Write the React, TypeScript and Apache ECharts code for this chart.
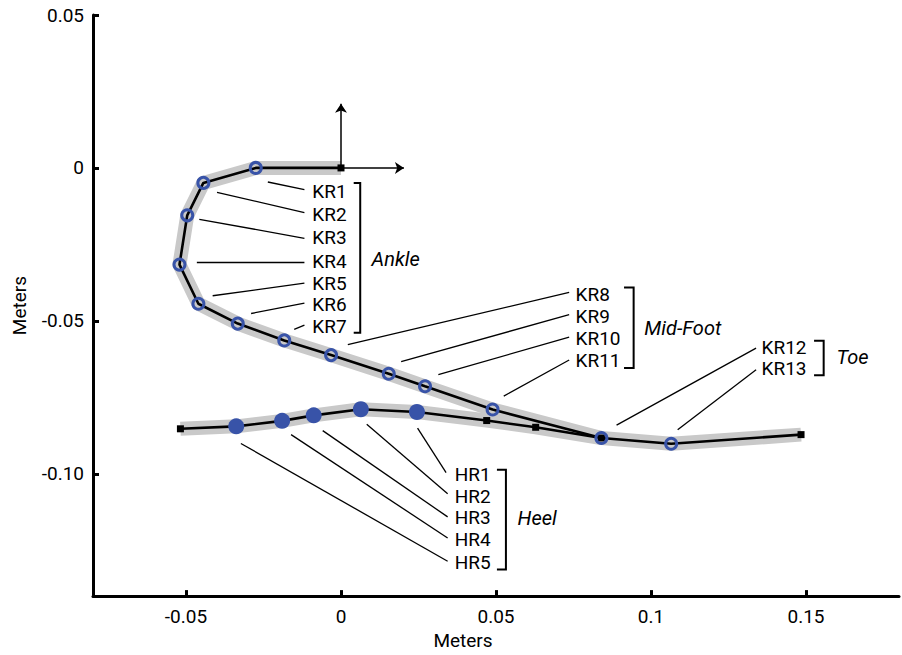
import React, { useEffect, useRef } from "react";
import * as echarts from "echarts";

// Axis ticks
const xTicks = [-0.05, 0, 0.05, 0.1, 0.15];
const xTickLabels = ["-0.05", "0", "0.05", "0.1", "0.15"];
const yTicks = [-0.1, -0.05, 0, 0.05];
const yTickLabels = ["-0.10", "-0.05", "0", "0.05"];

// Foot / knee reference trajectory (KR markers)
const krOrigin = [0, 0];
const krNames = ["KR1", "KR2", "KR3", "KR4", "KR5", "KR6", "KR7", "KR8", "KR9", "KR10", "KR11", "KR12", "KR13"];
const krX = [-0.0275, -0.0444, -0.0496, -0.0521, -0.046, -0.0333, -0.0183, -0.0032, 0.0154, 0.0271, 0.0489, 0.084, 0.1065];
const krY = [0.0, -0.0049, -0.0155, -0.0316, -0.0444, -0.0509, -0.0564, -0.0612, -0.0673, -0.0714, -0.079, -0.0883, -0.0902];
const krEnd = [0.1484, -0.0872];

// Heel trajectory (HR markers), left to right = HR5 ... HR1
const heelStart = [-0.0518, -0.0853];
const hrNames = ["HR5", "HR4", "HR3", "HR2", "HR1"];
const hrX = [-0.0338, -0.019, -0.0088, 0.0064, 0.0245];
const hrY = [-0.0845, -0.0827, -0.0809, -0.0789, -0.0798];
const heelMidX = [0.047, 0.0628];
const heelMidY = [-0.0826, -0.0848];
const heelEnd = [0.084, -0.0883];

// Annotation: leader lines [from, to] in data units
const krLeaders = [
  [[-0.0236, -0.0046], [-0.0118, -0.0071]],
  [[-0.04, -0.008], [-0.0118, -0.0146]],
  [[-0.0457, -0.0168], [-0.0118, -0.023]],
  [[-0.0465, -0.031], [-0.0118, -0.031]],
  [[-0.0414, -0.0418], [-0.0118, -0.0377]],
  [[-0.029, -0.0476], [-0.0118, -0.0442]],
  [[-0.0151, -0.0528], [-0.0118, -0.0514]],
  [[0.0022, -0.0578], [0.0736, -0.0407]],
  [[0.0194, -0.0633], [0.0736, -0.048]],
  [[0.0314, -0.0676], [0.0736, -0.0553]],
  [[0.0525, -0.0746], [0.0736, -0.0628]],
  [[0.0889, -0.0841], [0.1339, -0.0589]],
  [[0.1086, -0.0856], [0.1339, -0.066]],
];
const hrLeaders = [
  [[-0.0323, -0.0901], [0.0344, -0.1286]],
  [[-0.0161, -0.0872], [0.0344, -0.121]],
  [[-0.0059, -0.0859], [0.0344, -0.1141]],
  [[0.0083, -0.0838], [0.0344, -0.1065]],
  [[0.0247, -0.0851], [0.0339, -0.0996]],
];
const krLabelPos = [
  [-0.0094, -0.0076], [-0.0094, -0.0152], [-0.0094, -0.0226], [-0.0094, -0.0305],
  [-0.0094, -0.0377], [-0.0094, -0.0447], [-0.0094, -0.0517],
  [0.0755, -0.0413], [0.0755, -0.0485], [0.0755, -0.0558], [0.0755, -0.063],
  [0.1355, -0.0587], [0.1355, -0.0657],
];
const hrLabelPos = [
  [0.0365, -0.1289], [0.0365, -0.1216], [0.0365, -0.1144], [0.0365, -0.1074], [0.0365, -0.1004],
];
// Group brackets: [x, yTop, yBottom, tickLeftX]
const groupNames = ["Ankle", "Mid-Foot", "Toe", "Heel"];
const groupBrackets = [
  [0.0062, -0.0049, -0.0539, 0.0041],
  [0.0944, -0.0391, -0.0654, 0.0913],
  [0.1557, -0.0565, -0.0678, 0.1526],
  [0.0532, -0.0987, -0.1313, 0.0503],
];
const groupLabelPos = [
  [0.0097, -0.0297],
  [0.0977, -0.0523],
  [0.1597, -0.0619],
  [0.0568, -0.1144],
];
// Origin reference frame arrows
const frameArrows = [
  [[0, 0], [0, 0.021]],
  [[0, 0], [0.0203, 0]],
];

const BLUE = "#3853a8";
const BAND = "#c9c9c9";
const FONT = "Roboto, Liberation Sans, Arial, sans-serif";

export default function App() {
  const ref = useRef<HTMLDivElement>(null);
  useEffect(() => {
    if (!ref.current) return;
    const chart = echarts.init(ref.current, null, { renderer: "svg" });

    const krPts = krX.map((x, i) => [x, krY[i]]);
    const krLine = [krOrigin, ...krPts, krEnd];
    const hrPts = hrX.map((x, i) => [x, hrY[i]]);
    const heelMids = heelMidX.map((x, i) => [x, heelMidY[i]]);
    const heelLine = [heelStart, ...hrPts, ...heelMids, heelEnd];
    const squares = [krOrigin, krEnd, heelStart, ...heelMids, heelEnd];

    const bracketLines = groupBrackets.map(([x, t, b, l]) => ({
      coords: [[l, t], [x, t], [x, b], [l, b]],
    }));

    const labelStyle = {
      show: true,
      position: "right",
      distance: 0,
      formatter: "{b}",
      color: "#000",
      opacity: 1,
      fontSize: 19,
      fontFamily: FONT,
    };

    const option: any = {
      animation: false,
      backgroundColor: "#fff",
      grid: { left: 93, right: 3, top: 15, bottom: 54, containLabel: false },
      xAxis: {
        type: "value",
        min: -0.08,
        max: 0.18,
        splitLine: { show: false },
        axisLine: { show: true, onZero: false, lineStyle: { color: "#000", width: 3 } },
        axisTick: { show: true, inside: true, length: 6, customValues: xTicks, lineStyle: { color: "#000", width: 3 } },
        axisLabel: {
          customValues: xTicks,
          margin: 11,
          color: "#000",
          fontSize: 19,
          fontFamily: FONT,
          formatter: (v: number) => {
            const i = xTicks.findIndex((t) => Math.abs(t - v) < 1e-9);
            return i >= 0 ? xTickLabels[i] : "";
          },
        },
        name: "Meters",
        nameLocation: "middle",
        nameGap: 30,
        nameTextStyle: { color: "#000", fontSize: 19, fontFamily: FONT, padding: [0, 66, 0, 0] },
      },
      yAxis: {
        type: "value",
        min: -0.14,
        max: 0.05,
        splitLine: { show: false },
        axisLine: { show: true, onZero: false, lineStyle: { color: "#000", width: 3 } },
        axisTick: { show: true, inside: true, length: 6, customValues: yTicks, lineStyle: { color: "#000", width: 3 } },
        axisLabel: {
          customValues: yTicks,
          margin: 9,
          color: "#000",
          fontSize: 19,
          fontFamily: FONT,
          formatter: (v: number) => {
            const i = yTicks.findIndex((t) => Math.abs(t - v) < 1e-9);
            return i >= 0 ? yTickLabels[i] : "";
          },
        },
        name: "Meters",
        nameLocation: "middle",
        nameGap: 64,
        nameRotate: 90,
        nameTextStyle: { color: "#000", fontSize: 19, fontFamily: FONT },
      },
      series: [
        {
          type: "line",
          data: krLine,
          showSymbol: false,
          symbol: "none",
          lineStyle: { color: BAND, width: 14, cap: "butt", join: "round" },
          z: 1,
          silent: true,
        },
        {
          type: "line",
          data: heelLine,
          showSymbol: false,
          symbol: "none",
          lineStyle: { color: BAND, width: 14, cap: "butt", join: "round" },
          z: 1,
          silent: true,
        },
        {
          type: "line",
          data: krLine,
          showSymbol: false,
          symbol: "none",
          lineStyle: { color: "#000", width: 2.6 },
          z: 2,
        },
        {
          type: "line",
          data: heelLine,
          showSymbol: false,
          symbol: "none",
          lineStyle: { color: "#000", width: 2.6 },
          z: 2,
        },
        {
          type: "lines",
          coordinateSystem: "cartesian2d",
          data: [...krLeaders, ...hrLeaders].map((c) => ({ coords: c })),
          lineStyle: { color: "#000", width: 1.3, opacity: 1 },
          symbol: "none",
          z: 2,
        },
        {
          type: "lines",
          coordinateSystem: "cartesian2d",
          polyline: true,
          data: bracketLines,
          lineStyle: { color: "#000", width: 2, opacity: 1 },
          symbol: "none",
          z: 2,
        },
        {
          type: "lines",
          coordinateSystem: "cartesian2d",
          data: frameArrows.map((c) => ({ coords: c })),
          lineStyle: { color: "#000", width: 1.5, opacity: 1 },
          symbol: ["none", "arrow"],
          symbolSize: 9,
          z: 2,
        },
        {
          type: "scatter",
          data: squares,
          symbol: "rect",
          symbolSize: 7,
          itemStyle: { color: "#000", opacity: 1 },
          z: 3,
        },
        {
          type: "scatter",
          data: krPts,
          symbol: "circle",
          symbolSize: 11,
          itemStyle: { color: "rgba(0,0,0,0)", borderColor: BLUE, borderWidth: 3, opacity: 1 },
          z: 4,
        },
        {
          type: "scatter",
          data: hrPts,
          symbol: "circle",
          symbolSize: 16,
          itemStyle: { color: BLUE, opacity: 1 },
          z: 4,
        },
        {
          type: "scatter",
          data: [
            ...krNames.map((n, i) => ({ name: n, value: krLabelPos[i] })),
            ...hrNames.map((n, i) => ({ name: n, value: hrLabelPos[i] })),
          ],
          symbolSize: 1,
          itemStyle: { color: "rgba(0,0,0,0)", opacity: 1 },
          label: labelStyle,
          z: 5,
        },
        {
          type: "scatter",
          data: groupNames.map((n, i) => ({ name: n, value: groupLabelPos[i] })),
          symbolSize: 1,
          itemStyle: { color: "rgba(0,0,0,0)", opacity: 1 },
          label: { ...labelStyle, fontStyle: "italic", fontSize: 20 },
          z: 5,
        },
      ],
    };
    chart.setOption(option);
    return () => chart.dispose();
  }, []);
  return (
    <div
      ref={ref}
      style={{ position: "fixed", left: 0, top: 0, width: 902, height: 655, background: "#fff" }}
    />
  );
}
